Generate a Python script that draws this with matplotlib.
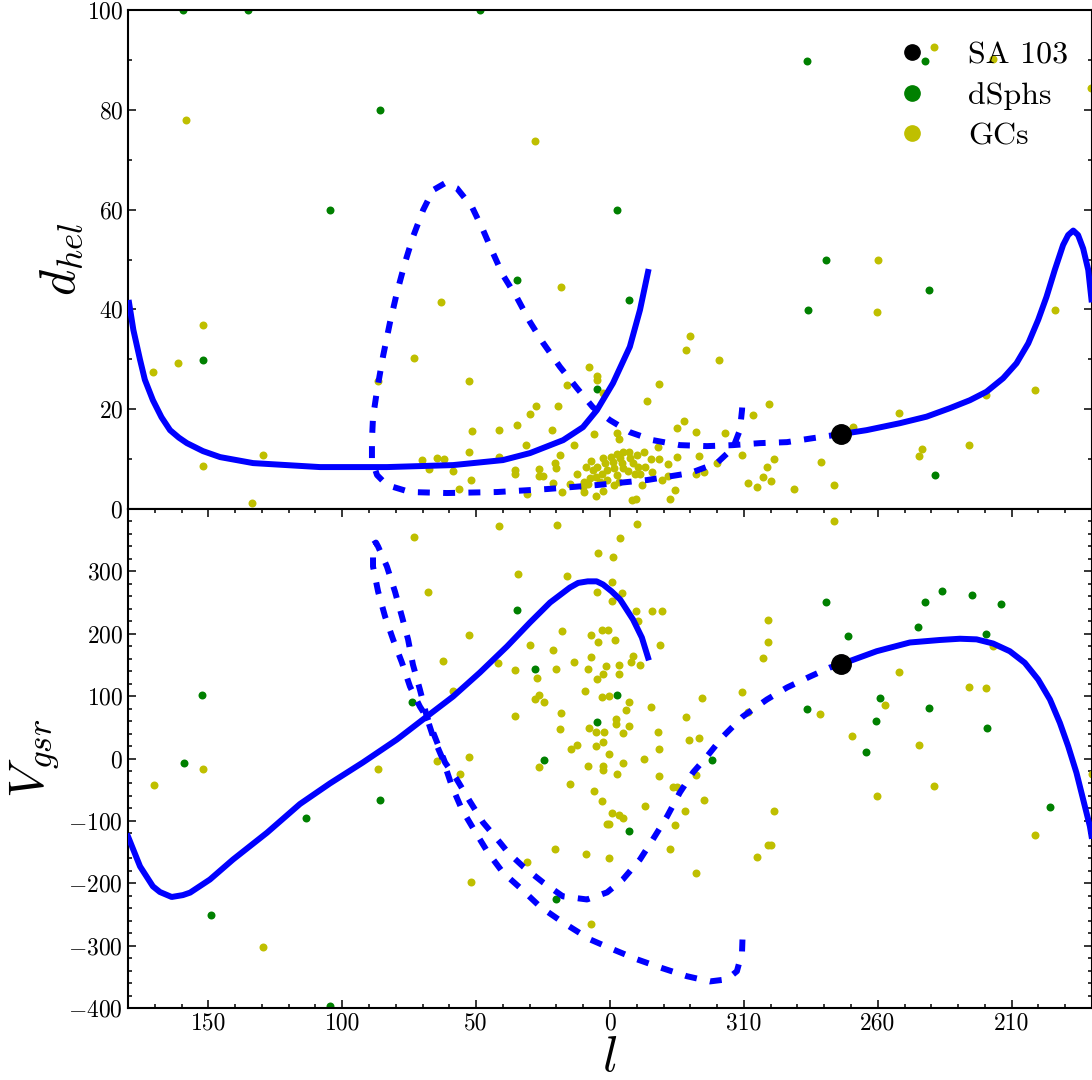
import numpy as np
import matplotlib
matplotlib.use("Agg")
import matplotlib.pyplot as plt
from matplotlib.lines import Line2D
from matplotlib.ticker import MultipleLocator

plt.rcParams['font.family'] = 'serif'
plt.rcParams['font.serif'] = ['cmr10']
plt.rcParams['mathtext.fontset'] = 'cm'
plt.rcParams['axes.formatter.use_mathtext'] = True
plt.rcParams['lines.scale_dashes'] = False

# SA 103 position
sa_l, sa_d, sa_v = 273.8, 15.0, 151.0

# orbit, top panel (galactic longitude l, heliocentric distance)
orb_d_solid1_l = [179.6, 178.0, 175.5, 173.7, 170.7, 167.5, 164.3, 161.0, 158.0, 152.0, 145.6,
                  133.3, 108.3, 83.3, 58.6, 40.0, 29.9, 17.5, 10.1, 4.9, 358.9, 352.6, 348.8,
                  345.8]
orb_d_solid1 = [41.3, 35.9, 29.9, 25.9, 21.8, 18.4, 15.8, 14.3, 13.2, 11.6, 10.4,
                9.2, 8.4, 8.4, 8.8, 9.8, 11.2, 13.8, 16.4, 19.8, 25.2, 32.5, 39.9,
                47.5]
orb_d_solid2_l = [273.8, 264.2, 251.7, 241.8, 233.1, 225.6, 219.4, 213.2, 208.2, 203.8, 200.1,
                  197.0, 193.9, 190.8, 188.9, 187.0, 185.2, 183.3, 181.4, 180.2]
orb_d_solid2 = [15.0, 15.8, 17.2, 18.5, 20.2, 21.8, 23.5, 26.2, 29.2, 33.2, 37.9,
                42.5, 47.9, 52.9, 54.9, 55.8, 54.9, 52.2, 47.9, 42.0]
orb_d_dash_l = [273.8, 284.2, 293.9, 304.0, 314.1, 323.8, 333.9, 344.0, 352.6, 0.0, 6.4, 12.3,
                18.7, 25.0, 29.9, 34.7, 40.0, 43.7, 47.4, 51.5, 57.2, 61.6, 66.1, 69.8, 73.6,
                76.6, 79.6, 82.2, 84.8, 87.0, 88.5, 88.9, 88.9, 87.0, 83.3, 74.7, 60.9, 42.2,
                23.5, 4.9, 346.2, 330.1, 320.1, 314.1, 311.5, 310.7, 310.4]
orb_d_dash = [15.0, 14.2, 13.4, 13.2, 12.8, 12.6, 12.8, 13.8, 15.4, 17.8, 20.4, 24.2,
              28.5, 33.3, 37.5, 42.3, 46.9, 51.3, 55.9, 60.5, 64.3, 65.3, 63.9, 59.9, 54.5,
              49.3, 43.3, 37.3, 30.5, 23.8, 18.4, 13.8, 9.8, 6.8, 4.8, 3.4, 3.2, 3.4,
              4.0, 4.8, 5.8, 7.2, 9.2, 12.2, 15.8, 19.8, 22.8]

# orbit, bottom panel (l, V_gsr)
orb_v_solid1_l = [180.0, 175.5, 170.7, 168.1, 163.7, 159.5, 156.8, 149.4, 140.8, 128.1, 115.8,
                  104.6, 92.3, 79.6, 68.9, 58.6, 48.6, 38.5, 29.9, 22.4, 15.0, 11.9, 8.3, 5.0,
                  2.6, 359.4, 356.2, 351.4, 348.1, 345.8]
orb_v_solid1 = [-125, -173, -205, -214, -222, -219, -215, -194, -162, -119, -73,
                -40, -6.4, 30.4, 65.7, 99.4, 137.8, 179.5, 218, 250, 274, 281.5, 284, 284,
                279, 268, 254.8, 222.8, 193.9, 161.9]
orb_v_solid2_l = [273.8, 260.4, 248.0, 236.8, 229.3, 223.1, 216.9, 210.7, 205.1, 200.1, 195.7,
                  192.0, 188.9, 185.8, 183.3, 180.8, 180.2]
orb_v_solid2 = [151, 172, 186, 190, 192, 191, 184.3, 172, 153.4, 126.6, 94.6,
                57.2, 19.7, -22.9, -65.7, -108.5, -124]
orb_v_dash_l = [273.8, 277.9, 285.3, 293.9, 301.4, 310.4, 317.8, 323.8, 329.0, 333.9, 338.7,
                344.0, 348.8, 355.2, 1.1, 8.6, 17.6, 25.0, 32.5, 38.1, 41.1, 47.4, 52.3,
                57.2, 61.6, 68.4, 71.0, 73.6, 75.4, 77.7, 80.3, 83.3, 86.6, 87.4, 88.5,
                88.5, 86.6, 84.0, 81.0, 77.7, 74.7, 71.0, 68.4, 66.1, 62.4, 59.0, 55.3,
                50.4, 45.6, 40.0, 32.9, 26.2, 17.6, 7.5, 358.9, 349.9, 341.3, 331.3,
                322.7, 316.3, 312.6, 310.7, 310.4]
orb_v_dash = [151, 145.8, 131.4, 113.8, 94.6, 67.3, 35.3, 3.2, -22.4, -54.5, -93,
              -129.8, -161.9, -193.9, -214.7, -226, -221, -198.7, -173, -150.6, -134.6, -102.6, -68.9,
              -33.7, -6.4, 67.3, 110.6, 150.6, 190.7, 227.6, 267.6, 307.7, 339.8, 346.2, 343,
              307.7, 267.6, 227.6, 190.7, 153.8, 115.4, 83.3, 65.7, 35.3, -1.6, -44.9, -81.7,
              -117, -150.6, -182.7, -209.9, -237.2, -262.8, -290, -306, -322, -335, -349,
              -357.4, -354, -341, -311, -274]

# dwarf spheroidals
dsph_top_l = [159.3, 135.3, 48.6, 85.9, 104.6, 152.1, 34.9, 357.5, 352.9, 5.0, 286.6, 242.4,
              279.5, 240.9, 286.0, 238.8]
dsph_top_d = [100, 100, 100, 80, 60, 29.9, 45.9, 59.9, 41.9, 24.0, 89.8, 89.8,
              49.9, 43.9, 39.9, 6.8]
dsph_bot_l = [152.3, 159.2, 149.1, 113.5, 34.9, 28.0, 357.3, 5.0, 24.7, 73.8, 85.9, 352.9,
              321.9, 20.3, 104.6, 279.5, 271.3, 242.5, 236.2, 224.9, 213.8, 245.1, 219.4,
              286.6, 259.2, 260.8, 240.9, 219.1, 264.4, 195.7]
dsph_bot_v = [101.4, -6.9, -250.5, -96, 238.8, 144.2, 102.6, 58.2, -3.2, 91.3, -66.2, -116.5,
              -2.7, -226, -397, 251.1, 196, 251.1, 268.1, 261.7, 248.4, 210.4, 199.8,
              79.6, 96.2, 60.4, 81.7, 48.1, 10.1, -77.4]

# globular clusters
gc_top_l = [158.3, 152.1, 161.4, 170.6, 152.1, 129.7, 133.7, 63.2, 73.2, 86.8, 52.8, 28.1,
            27.7, 29.9, 34.6, 41.6, 51.5, 31.4, 52.8, 41.6, 70.2, 64.5, 62.0, 67.7, 58.5,
            52.0, 56.3, 35.6, 35.6, 30.9, 26.5, 26.5, 24.9,
            18.3, 330.1, 331.8, 319.3, 7.9, 5.0, 5.0, 16.2, 2.5, 341.6, 346.2, 19.6, 21.7,
            332.4, 335.1, 327.7, 317.1, 306.5, 300.5, 6.1, 357.5, 356.5, 13.5, 18.7, 20.6,
            20.2, 12.2, 21.2, 15.0, 17.8, 335.1, 338.5, 342.0, 341.6, 344.7, 344.4, 340.7,
            335.7, 337.6, 326.8, 327.7, 324.8, 310.8, 308.4, 305.0, 303.0, 301.5, 351.9,
            350.3, 5.3, 2.8, 9.6,
            9.1, 7.2, 5.0, 2.8, 1.9, 1.0, 359.8, 358.8, 357.5, 356.3, 355.7, 355.0, 358.5,
            3.1, 5.3, 7.5, 6.5, 3.8, 1.3, 357.5, 355.3, 352.9, 352.6, 350.1, 347.3, 351.3,
            349.4, 353.2, 350.7, 348.8, 347.0, 338.2, 10.0, 9.6, 8.1, 356.6, 358.4, 348.2,
            320.2,
            239.0, 216.9, 180.5, 260.0, 260.3, 193.9, 201.4, 219.4, 252.0, 269.4, 298.8,
            300.0, 291.3, 276.3, 281.2, 243.5, 244.6, 226.1]
gc_top_d = [78.0, 36.9, 29.3, 27.5, 8.7, 10.8, 1.3, 41.4, 30.3, 25.7, 25.7, 73.8,
            20.6, 19.0, 16.8, 15.8, 15.6, 12.8, 11.4, 10.4, 9.8, 10.2, 10.0, 8.0, 7.6,
            5.8, 4.0, 7.8, 7.1, 3.0, 8.0, 6.7, 6.7,
            44.5, 34.7, 31.9, 29.8, 28.5, 26.7, 25.9, 24.8, 23.2, 25.0, 21.6, 20.6, 15.8,
            17.7, 16.3, 15.5, 15.2, 18.8, 21.0, 15.1, 15.2, 14.0, 12.8, 10.8, 9.2,
            8.3, 7.0, 5.3, 5.0, 3.5, 10.5, 9.0, 12.5, 10.0, 10.0, 7.4, 5.8,
            3.9, 2.1, 10.6, 7.1, 7.5, 10.8, 5.3, 4.5, 6.5, 8.5, 1.8,
            2.1, 2.6, 3.7, 3.5,
            8.5, 9.6, 8.5, 10.2, 9.2, 7.8, 10.5, 9.5, 11.0, 10.3, 9.2, 8.2, 8.2,
            7.1, 6.5, 6.2, 7.8, 5.5, 5.9, 6.8, 11.5, 11.5, 10.2, 10.8, 11.5, 9.2,
            8.5, 7.6, 7.0, 7.0, 8.4, 6.7, 4.5, 5.5, 5.1, 5.5, 4.8, 4.8,
            9.2,
            92.6, 90.1, 84.3, 49.9, 39.5, 39.9, 23.8, 22.8, 19.2, 16.4, 10.0,
            5.7, 4.1, 4.8, 9.5, 12.0, 10.6, 12.8]
gc_bot_l = [170.4, 152.1, 129.7,
            73.1, 41.5, 19.7, 350.0, 356.2, 4.3, 359.0, 34.5, 16.0, 359.4, 67.9, 5.0, 355.7,
            359.4, 350.3, 344.4, 340.6, 349.5, 301.0, 300.9, 302.8, 52.8, 17.8, 7.0, 3.1,
            0.8, 358.1, 4.6, 29.9, 21.2, 341.4, 62.3, 41.7, 35.5, 20.2, 13.5, 8.1, 7.1,
            1.5, 356.8, 351.3, 352.2, 348.8, 356.8, 5.0, 2.8, 27.4, 26.5, 28.0, 24.7, 9.2,
            3.1, 0.3, 352.8, 354.0, 344.8, 35.5, 18.3, 18.7, 7.9, 5.3, 2.2, 357.8, 357.8,
            352.8, 355.0, 2.8, 5.3, 12.2, 14.6, 0.3, 342.2, 341.6, 331.8, 330.4, 326.8,
            325.8, 310.7, 308.4, 347.3, 355.0, 8.3, 2.8, 2.8, 357.5, 341.6, 26.4, 15.0,
            6.1, 3.1, 336.4, 334.9, 327.7, 324.9, 332.1, 347.1, 359.4, 356.5, 355.3, 1.2,
            0.3, 335.6, 337.6, 20.7, 9.1, 0.3, 31.1, 327.9, 305.0, 300.9, 51.9, 7.1, 86.5,
            64.7, 52.8, 56.0, 58.5,
            276.4, 251.9, 226.1, 219.4, 217.1, 281.4, 257.3, 269.5, 244.6, 239.1, 260.4,
            298.8, 300.0, 201.2, 180.1]
gc_bot_v = [-42.8, -17.6, -301.8,
            355.8, 372.3, 373.9, 376.1, 353.7, 329.6, 323.7, 296.5, 293.3, 282.5, 267.1, 266.5, 265.6,
            252.1, 237.2, 237.2, 237.2, 221.2, 221.6, 186.4, 161.4, 198.7, 205.1, 198.2, 205.6,
            205.6, 190.7, 186.4, 181.6, 174.7, 182.7, 155.9, 153.4, 142.6, 143.7, 155.0, 144.2, 162.3,
            149.0, 150.2, 164.0, 154.3, 149.5, 135.1, 128.2, 135.7, 129.3, 102.6, 95.7, 90.9, 107.9,
            98.2, 101.0, 90.2, 78.5, 82.9, 67.8, 73.2, 47.6, 48.1, 42.8, 42.8, 64.1, 55.6,
            51.8, 40.1, 26.1, 20.8, 22.4, 15.5, 7.5, 42.2, 15.5, 66.2, 30.4, 32.1,
            97.3, 107.4, 74.2, -1.6, -8.0, -12.3, -12.3, -18.7, -25.6, -28.4, -13.9, -40.1,
            -52.4, -68.9, -46.0, -46.0, -26.8, -66.8, -84.9, -76.9, -87.0, -91.3, -95.7, -105.8,
            -105.8, -106.3, -145.8, -145.8, -152.7, -159.1, -165.5, -184.3, -158.2, -139.4, -198.2, -266.0, -17.6,
            -4.3, 2.1, -24.5, 107.9,
            380.3, 139.4, 114.9, 113.8, 180.0, 71.6, 86.0, 35.3, 21.4, -43.3, -60.9,
            -83.8, -138.9, -122.3, -24.5]

legend_labels = ['SA 103', 'dSphs', 'GCs']
xtick_pos = [150, 100, 50, 0, -50, -100, -150]
xtick_labels = ['150', '100', '50', '0', '310', '260', '210']


def wrap(l):
    # longitudes above 180 go to the right-hand half of the axis
    l = np.asarray(l, dtype=float)
    return np.where(l > 180, l - 360, l)


W, H = 1092, 1080
fig = plt.figure(figsize=(W / 100, H / 100), dpi=100)
ax1 = fig.add_axes([128 / W, (H - 509) / H, 964 / W, 499 / H])
ax2 = fig.add_axes([128 / W, (H - 1008) / H, 964 / W, 499 / H])

blue = (0, 0, 1)
lw = 4.3
dash = (8.6, 9.6)
ms_pt = 33

# top panel
ax1.scatter(wrap(dsph_top_l), dsph_top_d, s=ms_pt, c='g', linewidths=0, zorder=2)
ax1.scatter(wrap(gc_top_l), gc_top_d, s=ms_pt, c='y', linewidths=0, zorder=2)
ax1.plot(wrap(orb_d_solid1_l), orb_d_solid1, color=blue, lw=lw, zorder=3)
ax1.plot(wrap(orb_d_solid2_l), orb_d_solid2, color=blue, lw=lw, zorder=3)
ax1.plot(wrap(orb_d_dash_l), orb_d_dash, color=blue, lw=lw, dashes=dash, zorder=3)
ax1.plot(wrap([sa_l]), [sa_d], 'o', color='k', ms=14, zorder=4)

# bottom panel
ax2.scatter(wrap(dsph_bot_l), dsph_bot_v, s=ms_pt, c='g', linewidths=0, zorder=2)
ax2.scatter(wrap(gc_bot_l), gc_bot_v, s=ms_pt, c='y', linewidths=0, zorder=2)
ax2.plot(wrap(orb_v_solid1_l), orb_v_solid1, color=blue, lw=lw, zorder=3)
ax2.plot(wrap(orb_v_solid2_l), orb_v_solid2, color=blue, lw=lw, zorder=3)
ax2.plot(wrap(orb_v_dash_l), orb_v_dash, color=blue, lw=lw, dashes=dash, zorder=3)
ax2.plot(wrap([sa_l]), [sa_v], 'o', color='k', ms=14, zorder=4)

for ax in (ax1, ax2):
    ax.set_xlim(180, -180)
    ax.set_xticks(xtick_pos)
    ax.xaxis.set_minor_locator(MultipleLocator(10))
    for sp in ax.spines.values():
        sp.set_linewidth(1.5)
    ax.tick_params(which='both', direction='in', right=True, top=True, labelsize=17, width=1.1)
    ax.tick_params(which='major', length=6)
    ax.tick_params(which='minor', length=3)

ax1.tick_params(axis='x', which='both', top=False, bottom=False, labelbottom=False)
ax2.set_xticklabels(xtick_labels)

ax1.set_ylim(0, 100)
ax1.yaxis.set_major_locator(MultipleLocator(20))
ax1.yaxis.set_minor_locator(MultipleLocator(10))
ax2.set_ylim(-400, 400)
ax2.set_yticks(range(-400, 301, 100))
ax2.yaxis.set_minor_locator(MultipleLocator(20))

ax1.set_ylabel(r'$d_{hel}$', fontsize=36)
ax2.set_ylabel(r'$V_{gsr}$', fontsize=36)
ax2.set_xlabel(r'$l$', fontsize=36)
ax1.yaxis.set_label_coords(-0.045, 0.5)
ax2.yaxis.set_label_coords(-0.07, 0.5)
ax2.xaxis.set_label_coords(0.5, -0.055)

handles = [Line2D([], [], ls='', marker='o', color='k', ms=11),
           Line2D([], [], ls='', marker='o', color='g', ms=11),
           Line2D([], [], ls='', marker='o', color='y', ms=11)]
ax1.legend(handles, legend_labels, loc='upper right', frameon=False, fontsize=23,
           handletextpad=0.75, labelspacing=0.38, numpoints=1,
           bbox_to_anchor=(1.005, 0.995))

fig.savefig('out.png', dpi=100)
